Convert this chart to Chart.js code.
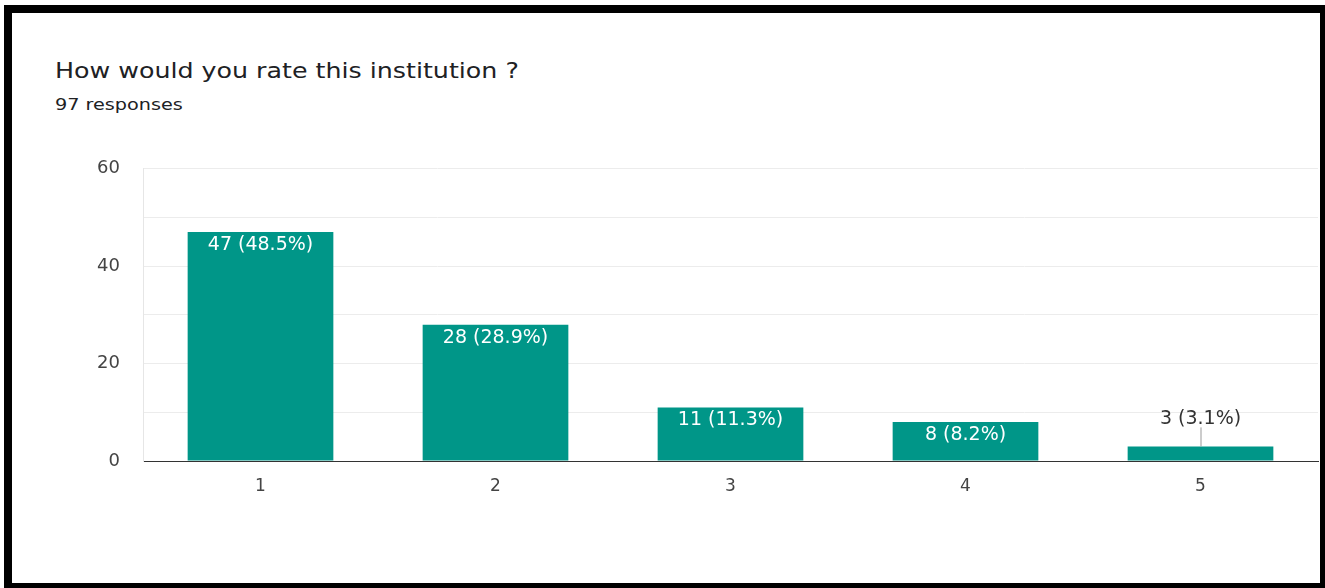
<!DOCTYPE html>
<html>
<head>
<meta charset="utf-8">
<script src="https://cdn.jsdelivr.net/npm/chart.js@4"></script>
<style>
  body { margin: 0; background: #fff; width: 1325px; height: 588px; overflow: hidden; }
  #frame {
    position: absolute; left: 4px; top: 5px; width: 1308px; height: 570px;
    border-style: solid; border-color: #000; border-width: 8px 5px 5px 8px;
    background: #fff;
  }
  #titulo { position: absolute; left: 43px; top: 45px; font: 22px "DejaVu Sans", sans-serif; color: #202124;
            transform: scaleX(1.15); transform-origin: left top; white-space: nowrap; }
  #sub { position: absolute; left: 43px; top: 82px; font: 16px "DejaVu Sans", sans-serif; color: #202124;
         transform: scaleX(1.2); transform-origin: left top; white-space: nowrap; }
  #wrap { position: absolute; left: 0; top: 122px; width: 1308px; height: 448px; }
</style>
</head>
<body>
<div id="frame">
  <div id="titulo">How would you rate this institution ?</div>
  <div id="sub">97 responses</div>
  <div id="wrap"><canvas id="grafico"></canvas></div>
</div>
<script>
const categorias = ['1', '2', '3', '4', '5']
const respostas = [47, 28, 11, 8, 3]
const total = 97
const fonte = '"DejaVu Sans", sans-serif'

// escreve "n (x%)" no topo de cada barra
const rotulos = {
    id: 'rotulos',
    afterDatasetsDraw(chart) {
        const ctx = chart.ctx
        const meta = chart.getDatasetMeta(0)
        ctx.save()
        ctx.font = '19px ' + fonte
        ctx.textAlign = 'center'
        ctx.textBaseline = 'middle'
        meta.data.forEach((barra, i) => {
            const v = respostas[i]
            const txt = v + ' (' + (v / total * 100).toFixed(1) + '%)'
            const altura = barra.base - barra.y
            if (altura > 25) {
                ctx.fillStyle = '#fff'
                ctx.fillText(txt, barra.x, barra.y + 13)
            } else {
                ctx.strokeStyle = '#999'
                ctx.lineWidth = 1
                ctx.beginPath()
                ctx.moveTo(barra.x + 0.5, barra.y)
                ctx.lineTo(barra.x + 0.5, barra.y - 19)
                ctx.stroke()
                ctx.fillStyle = '#333'
                ctx.fillText(txt, barra.x, barra.y - 27)
            }
        })
        ctx.restore()
    }
}

function plotaGrafico(){
    const data = {
        labels: categorias,
        datasets: [{
            data: respostas,
            backgroundColor: '#009688',
            categoryPercentage: 0.62,
            barPercentage: 1
        }]
    }
    const config = {
        type: 'bar',
        data: data,
        plugins: [rotulos],
        options: {
            responsive: true,
            maintainAspectRatio: false,
            animation: false,
            layout: { padding: { top: 0, right: 2, left: 0, bottom: 0 } },
            plugins: {
                legend: { display: false },
                tooltip: { enabled: false }
            },
            scales: {
                x: {
                    grid: { display: false, drawTicks: false },
                    border: { display: true, color: '#333', width: 1 },
                    ticks: {
                        padding: 15,
                        color: '#444',
                        font: { family: fonte, size: 17 }
                    },
                    afterFit(scale) { scale.height = 122 }
                },
                y: {
                    min: 0,
                    max: 60,
                    grid: {
                        drawTicks: false,
                        color: c => c.tick && c.tick.value === 0 ? '#333' : '#ececec'
                    },
                    border: { display: true, color: '#e6e6e6' },
                    ticks: {
                        stepSize: 10,
                        padding: 23,
                        color: '#444',
                        font: { family: fonte, size: 18 },
                        callback: v => v % 20 === 0 ? v : ''
                    },
                    afterFit(scale) { scale.width = 131 }
                }
            }
        }
    }
    const grafico = document.getElementById('grafico')
    return new Chart(grafico, config)
}

plotaGrafico()
</script>
</body>
</html>
